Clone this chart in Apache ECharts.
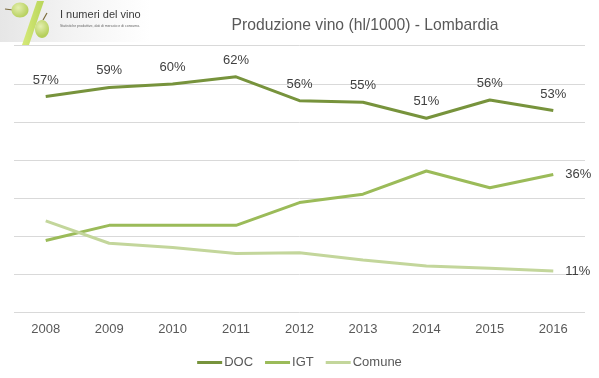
<!DOCTYPE html>
<html>
<head>
<meta charset="utf-8">
<script src="https://cdn.jsdelivr.net/npm/echarts@6/dist/echarts.min.js"></script>
<style>
html,body{margin:0;padding:0;background:#fff;}
#c{width:599px;height:378px;}
</style>
</head>
<body>
<div id="c"></div>
<script>
var years = ['2008','2009','2010','2011','2012','2013','2014','2015','2016'];
var docValues = [56.7, 59.1, 60.0, 61.9, 55.6, 55.2, 51.0, 55.8, 53.0];
var igtValues = [18.8, 22.8, 22.8, 22.8, 28.8, 31.0, 37.1, 32.7, 36.2];
var comuneValues = [24.0, 18.1, 17.0, 15.4, 15.6, 13.7, 12.1, 11.5, 10.8];
var seriesNames = ['DOC', 'IGT', 'Comune'];
var titleText = 'Produzione vino (hl/1000) - Lombardia';

var FONT = '"Liberation Sans", Arial, sans-serif';
var chart = echarts.init(document.getElementById('c'), null, {renderer: 'canvas'});

function pctFmt(p){ return Math.round(p.value) + '%'; }
function lastOnly(p){ return p.dataIndex === years.length - 1 ? pctFmt(p) : ''; }

var option = {
  animation: false,
  backgroundColor: '#ffffff',
  title: {
    text: titleText,
    left: 360, top: 13, textAlign: 'center',
    textStyle: {fontFamily: FONT, fontSize: 15.7, fontWeight: 'normal', color: '#595959'}
  },
  graphic: [
    {type: 'rect', shape: {x: 0, y: 0, width: 150, height: 42}, z: -1,
     style: {fill: new echarts.graphic.LinearGradient(0, 0, 1, 0, [
       {offset: 0, color: '#e6e6e6'}, {offset: 0.5, color: '#f4f4f4'}, {offset: 1, color: '#ffffff'}])}},
    {type: 'line', shape: {x1: 14, y1: 45.5, x2: 585, y2: 45.5}, style: {stroke: '#d9d9d9', lineWidth: 1}},
    {type: 'line', shape: {x1: 5, y1: 9, x2: 13, y2: 10}, style: {stroke: '#7a6a3a', lineWidth: 1.2}},
    {type: 'ellipse', shape: {cx: 20, cy: 10, rx: 8.5, ry: 7.5},
     style: {fill: new echarts.graphic.RadialGradient(0.4, 0.35, 0.7, [
       {offset: 0, color: '#e4efb0'}, {offset: 1, color: '#b5cf5a'}])}},
    {type: 'polygon', shape: {points: [[37, 1], [44, 1], [29, 45], [22, 45]]},
     style: {fill: new echarts.graphic.LinearGradient(0, 0, 1, 0, [
       {offset: 0, color: '#d6ea7a'}, {offset: 1, color: '#b9d55a'}])}},
    {type: 'line', shape: {x1: 43, y1: 20, x2: 47, y2: 13}, style: {stroke: '#7a6a3a', lineWidth: 1.2}},
    {type: 'ellipse', shape: {cx: 42, cy: 29, rx: 7, ry: 9},
     style: {fill: new echarts.graphic.RadialGradient(0.4, 0.35, 0.7, [
       {offset: 0, color: '#e4efb0'}, {offset: 1, color: '#b5cf5a'}])}},
    {type: 'text', left: 60, top: 9,
     style: {text: 'I numeri del vino', font: '11px "Liberation Sans Narrow", "Liberation Sans", Arial, sans-serif', fill: '#3a3a3a'}},
    {type: 'text', left: 60, top: 24,
     style: {text: 'Statistiche produttive, dati di mercato e di consumo.', font: '3.5px "Liberation Sans", Arial, sans-serif', fill: '#666666'}}
  ],
  legend: {
    data: seriesNames,
    left: 'center', top: 351,
    icon: 'rect', itemWidth: 25, itemHeight: 3, itemGap: 12,
    textStyle: {fontFamily: FONT, fontSize: 13, color: '#595959', padding: [0,0,0,-3]}
  },
  grid: {left: 14, right: 14, top: 84, bottom: 66, containLabel: false},
  xAxis: {
    type: 'category', data: years, boundaryGap: true,
    axisLine: {show: false}, axisTick: {show: false},
    axisLabel: {fontFamily: FONT, fontSize: 13, color: '#595959', margin: 11}
  },
  yAxis: {
    type: 'value', min: 0, max: 60, interval: 10,
    axisLabel: {show: false}, axisLine: {show: false}, axisTick: {show: false},
    splitLine: {lineStyle: {color: '#d9d9d9', width: 1}}
  },
  series: [
    {name: seriesNames[0], type: 'line', data: docValues, clip: false,
     symbol: 'circle', symbolSize: 0.01, showSymbol: true,
     lineStyle: {color: '#77933c', width: 3}, itemStyle: {color: '#77933c'},
     label: {show: true, position: 'top', distance: 10, formatter: pctFmt,
             fontFamily: FONT, fontSize: 13, color: '#404040'}},
    {name: seriesNames[1], type: 'line', data: igtValues, clip: false,
     symbol: 'circle', symbolSize: 0.01, showSymbol: true,
     lineStyle: {color: '#9bbb59', width: 3}, itemStyle: {color: '#9bbb59'},
     label: {show: true, position: 'right', distance: 12, formatter: lastOnly,
             fontFamily: FONT, fontSize: 13, color: '#404040'}},
    {name: seriesNames[2], type: 'line', data: comuneValues, clip: false,
     symbol: 'circle', symbolSize: 0.01, showSymbol: true,
     lineStyle: {color: '#c3d69b', width: 3}, itemStyle: {color: '#c3d69b'},
     label: {show: true, position: 'right', distance: 12, formatter: lastOnly,
             fontFamily: FONT, fontSize: 13, color: '#404040'}}
  ]
};
chart.setOption(option);
</script>
</body>
</html>
